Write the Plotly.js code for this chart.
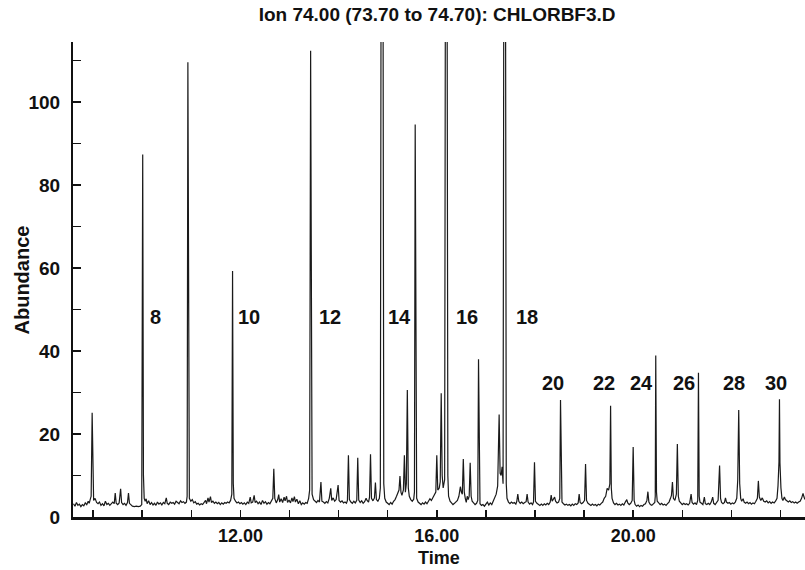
<!DOCTYPE html>
<html>
<head>
<meta charset="utf-8">
<script src="https://cdn.plot.ly/plotly-3.0.1.min.js"></script>
<style>html,body{margin:0;padding:0;background:#fff;}#chart{width:805px;height:570px;}</style>
</head>
<body>
<div id="chart"></div>
<script>
// Retention time (min) of each sampled point of the ion-74 chromatogram
const time = [
  8.60, 8.63, 8.66, 8.69, 8.72, 8.75, 8.78, 8.81, 8.84, 8.87,
  8.90, 8.92, 8.94, 8.96, 8.98, 8.995, 9.01, 9.04, 9.07, 9.10,
  9.13, 9.16, 9.19, 9.22, 9.25, 9.28, 9.31, 9.34, 9.37, 9.40,
  9.43, 9.45, 9.47, 9.50, 9.53, 9.56, 9.58, 9.61, 9.64, 9.67,
  9.70, 9.72, 9.74, 9.77, 9.80, 9.84, 9.88, 9.92, 9.96, 9.99,
  10.00, 10.01, 10.025, 10.04, 10.06, 10.08, 10.10, 10.13, 10.16, 10.19,
  10.22, 10.25, 10.28, 10.31, 10.34, 10.37, 10.40, 10.43, 10.46, 10.49,
  10.51, 10.54, 10.57, 10.60, 10.63, 10.66, 10.69, 10.72, 10.75, 10.78,
  10.81, 10.84, 10.87, 10.90, 10.915, 10.93, 10.945, 10.96, 10.99, 11.02,
  11.05, 11.08, 11.11, 11.14, 11.17, 11.20, 11.23, 11.26, 11.29, 11.31,
  11.34, 11.36, 11.39, 11.41, 11.44, 11.47, 11.50, 11.53, 11.56, 11.59,
  11.62, 11.65, 11.68, 11.71, 11.74, 11.77, 11.80, 11.825, 11.84, 11.855,
  11.87, 11.90, 11.93, 11.96, 11.99, 12.02, 12.05, 12.08, 12.11, 12.14,
  12.17, 12.20, 12.22, 12.25, 12.28, 12.30, 12.33, 12.36, 12.39, 12.42,
  12.45, 12.48, 12.51, 12.54, 12.57, 12.60, 12.63, 12.66, 12.68, 12.70,
  12.73, 12.76, 12.78, 12.80, 12.83, 12.86, 12.89, 12.91, 12.94, 12.96,
  12.99, 13.02, 13.05, 13.07, 13.10, 13.12, 13.15, 13.18, 13.21, 13.24,
  13.27, 13.30, 13.33, 13.36, 13.39, 13.41, 13.43, 13.445, 13.46, 13.49,
  13.52, 13.55, 13.58, 13.61, 13.64, 13.66, 13.69, 13.72, 13.75, 13.78,
  13.81, 13.84, 13.86, 13.89, 13.92, 13.95, 13.99, 14.01, 14.04, 14.07,
  14.10, 14.13, 14.16, 14.18, 14.20, 14.22, 14.25, 14.28, 14.31, 14.34,
  14.37, 14.39, 14.41, 14.44, 14.47, 14.50, 14.53, 14.56, 14.58, 14.61,
  14.63, 14.65, 14.67, 14.70, 14.73, 14.75, 14.77, 14.80, 14.83, 14.85,
  14.865, 14.905, 14.92, 14.94, 14.97, 15.00, 15.03, 15.06, 15.09, 15.12,
  15.15, 15.18, 15.21, 15.23, 15.25, 15.27, 15.29, 15.32, 15.34, 15.36,
  15.38, 15.40, 15.42, 15.44, 15.47, 15.50, 15.53, 15.545, 15.56, 15.575,
  15.59, 15.62, 15.65, 15.68, 15.71, 15.74, 15.77, 15.80, 15.83, 15.86,
  15.89, 15.92, 15.95, 15.98, 16.00, 16.02, 16.05, 16.07, 16.09, 16.11,
  16.13, 16.16, 16.175, 16.21, 16.225, 16.24, 16.27, 16.30, 16.33, 16.36,
  16.39, 16.42, 16.45, 16.48, 16.50, 16.52, 16.54, 16.56, 16.58, 16.60,
  16.62, 16.64, 16.66, 16.68, 16.70, 16.72, 16.75, 16.78, 16.81, 16.835,
  16.85, 16.865, 16.88, 16.91, 16.94, 16.97, 17.00, 17.03, 17.06, 17.09,
  17.12, 17.15, 17.18, 17.21, 17.24, 17.27, 17.29, 17.31, 17.33, 17.35,
  17.365, 17.40, 17.415, 17.43, 17.46, 17.49, 17.52, 17.55, 17.58, 17.61,
  17.63, 17.65, 17.67, 17.70, 17.73, 17.76, 17.79, 17.82, 17.84, 17.86,
  17.89, 17.92, 17.95, 17.97, 17.99, 18.01, 18.04, 18.07, 18.10, 18.13,
  18.16, 18.19, 18.22, 18.25, 18.28, 18.31, 18.33, 18.35, 18.38, 18.40,
  18.42, 18.45, 18.48, 18.505, 18.52, 18.535, 18.55, 18.58, 18.61, 18.64,
  18.67, 18.70, 18.73, 18.76, 18.79, 18.82, 18.85, 18.88, 18.90, 18.92,
  18.95, 18.98, 19.01, 19.03, 19.05, 19.08, 19.11, 19.14, 19.17, 19.20,
  19.23, 19.26, 19.29, 19.32, 19.35, 19.38, 19.41, 19.44, 19.47, 19.50,
  19.525, 19.54, 19.555, 19.57, 19.60, 19.63, 19.66, 19.69, 19.72, 19.75,
  19.78, 19.81, 19.84, 19.87, 19.89, 19.92, 19.95, 19.98, 20.00, 20.02,
  20.04, 20.07, 20.10, 20.13, 20.16, 20.19, 20.22, 20.25, 20.28, 20.30,
  20.32, 20.35, 20.38, 20.41, 20.44, 20.45, 20.46, 20.475, 20.49, 20.52,
  20.55, 20.58, 20.61, 20.64, 20.67, 20.70, 20.73, 20.76, 20.78, 20.80,
  20.82, 20.85, 20.88, 20.90, 20.92, 20.94, 20.97, 21.00, 21.03, 21.06,
  21.09, 21.12, 21.15, 21.18, 21.20, 21.23, 21.26, 21.29, 21.315, 21.33,
  21.345, 21.36, 21.39, 21.42, 21.45, 21.47, 21.50, 21.53, 21.56, 21.59,
  21.62, 21.64, 21.67, 21.70, 21.73, 21.76, 21.78, 21.80, 21.83, 21.86,
  21.88, 21.90, 21.93, 21.96, 21.99, 22.02, 22.05, 22.08, 22.11, 22.13,
  22.15, 22.17, 22.19, 22.21, 22.24, 22.26, 22.29, 22.32, 22.35, 22.38,
  22.41, 22.44, 22.47, 22.50, 22.53, 22.55, 22.57, 22.60, 22.63, 22.66,
  22.69, 22.72, 22.75, 22.78, 22.81, 22.84, 22.87, 22.90, 22.93, 22.95,
  22.97, 22.98, 22.99, 23.01, 23.03, 23.05, 23.08, 23.10, 23.13, 23.16,
  23.19, 23.22, 23.25, 23.28, 23.31, 23.34, 23.37, 23.40, 23.43, 23.46,
  23.48, 23.50
];

// Abundance read at each time above (off-scale peaks run past the top)
const abundance = [
  3.2, 2.6, 3.5, 2.8, 3.1, 2.5, 3.0, 2.7, 3.4, 3.0,
  3.8, 3.3, 4.2, 5.0, 25.1, 6.0, 4.0, 4.5, 3.5, 3.2,
  3.6, 2.8, 3.2, 2.7, 3.8, 3.0, 3.3, 2.8, 3.1, 3.6,
  3.2, 5.8, 3.3, 3.0, 3.4, 6.8, 3.5, 3.0, 3.3, 2.8,
  3.5, 5.8, 3.3, 2.9, 2.6, 2.5, 2.6, 2.5, 2.6, 3.0,
  30.0, 87.4, 10.0, 4.5, 3.8, 4.4, 3.2, 3.9, 3.0, 3.5,
  2.9, 3.3, 2.8, 3.6, 3.1, 3.4, 2.9, 3.5, 3.2, 4.6,
  3.3, 3.0, 3.6, 3.3, 3.5, 3.1, 3.8, 3.4, 3.2, 3.9,
  3.5, 3.7, 3.3, 3.6, 5.0, 109.6, 8.0, 4.5, 3.8, 4.2,
  3.4, 3.7, 3.1, 3.3, 2.9, 3.2, 3.0, 3.4, 4.0, 3.2,
  4.6, 3.6, 4.9, 3.5, 3.8, 3.3, 3.6, 3.2, 3.5, 3.0,
  3.4, 3.1, 3.5, 3.3, 3.6, 3.4, 4.0, 5.5, 59.3, 8.0,
  4.5, 3.8, 3.4, 3.6, 3.2, 3.5, 3.1, 3.4, 3.0, 3.6,
  3.3, 4.8, 3.4, 3.6, 5.2, 3.5, 3.8, 3.2, 3.6, 3.0,
  4.0, 3.3, 3.7, 3.1, 3.5, 3.2, 3.8, 4.5, 11.6, 4.5,
  3.4, 4.2, 5.4, 3.6, 4.4, 3.5, 4.8, 3.9, 5.0, 3.5,
  4.1, 3.4, 4.6, 3.7, 4.9, 3.6, 4.3, 3.2, 3.9, 3.0,
  3.4, 3.1, 3.5, 3.3, 4.5, 6.5, 112.4, 10.0, 5.5, 4.2,
  3.8, 3.5, 4.0, 3.6, 8.4, 3.8, 3.6, 3.3, 3.7, 3.4,
  4.5, 6.9, 4.0, 4.6, 3.8, 4.2, 7.7, 4.0, 3.6, 3.9,
  3.4, 3.6, 3.3, 4.0, 14.9, 4.2, 3.6, 3.3, 3.8, 3.4,
  4.0, 14.3, 4.1, 3.5, 3.9, 3.3, 3.7, 4.5, 4.0, 3.6,
  4.8, 15.1, 4.5, 3.9, 4.6, 8.3, 4.2, 3.8, 4.5, 7.0,
  130, 130, 8.0, 4.5, 3.6, 3.2, 3.0, 3.5, 3.1, 3.8,
  4.2, 5.0, 5.8, 6.5, 9.9, 6.0, 5.2, 6.5, 14.9, 6.0,
  8.0, 30.6, 7.0, 5.0, 4.2, 3.8, 4.3, 6.0, 94.6, 8.0,
  4.5, 3.6, 3.3, 3.0, 3.4, 3.1, 3.6, 3.2, 3.8, 4.4,
  4.0, 4.8, 5.5, 6.0, 14.9, 6.5, 7.0, 8.5, 29.8, 10.0,
  7.0, 9.0, 130, 130, 10.0, 5.0, 3.8, 3.4, 3.0, 3.3,
  3.6, 4.0, 5.0, 7.3, 6.0, 5.5, 14.0, 6.0, 4.5, 3.5,
  5.0, 4.2, 5.0, 13.1, 5.0, 3.8, 3.4, 3.0, 3.3, 4.0,
  38.0, 4.5, 3.2, 2.8, 3.0, 2.6, 3.2, 3.6, 2.9, 3.4,
  3.0, 3.8, 4.5, 5.5, 7.5, 24.7, 10.5, 10.0, 12.1, 8.0,
  130, 130, 8.0, 4.5, 3.6, 3.2, 3.6, 3.3, 3.5, 3.1,
  3.8, 5.5, 3.8, 3.3, 3.6, 3.2, 3.5, 3.7, 5.5, 3.6,
  3.1, 3.4, 3.0, 3.6, 13.2, 3.8, 3.3, 3.0, 2.8, 3.1,
  2.8, 3.2, 2.9, 3.3, 3.0, 3.6, 5.3, 3.8, 4.5, 4.8,
  3.8, 3.4, 3.6, 4.5, 28.2, 4.8, 3.6, 3.2, 2.9, 3.1,
  2.8, 3.0, 2.7, 3.1, 2.8, 3.2, 3.0, 3.4, 5.5, 3.5,
  3.2, 3.5, 4.0, 12.8, 4.0, 3.3, 3.0, 2.8, 3.1, 2.8,
  3.0, 2.7, 3.1, 2.9, 3.3, 3.6, 4.5, 5.0, 6.9, 6.5,
  8.0, 26.8, 7.0, 4.5, 3.4, 3.0, 3.3, 2.9, 3.1, 2.8,
  3.2, 2.9, 3.6, 4.2, 3.4, 3.0, 3.3, 4.0, 16.9, 4.0,
  3.0, 2.6, 2.9, 2.5, 2.8, 2.6, 3.0, 3.2, 4.0, 6.1,
  3.6, 3.0, 2.8, 3.2, 3.5, 5.0, 38.9, 6.0, 3.8, 3.4,
  3.0, 3.3, 2.9, 3.1, 2.8, 3.2, 3.6, 4.5, 5.2, 8.4,
  4.5, 4.0, 5.5, 17.6, 5.0, 3.8, 3.3, 3.0, 3.3, 3.0,
  3.2, 2.9, 3.3, 5.5, 3.5, 3.1, 3.4, 3.0, 4.0, 34.8,
  5.0, 3.6, 3.3, 3.0, 4.8, 3.2, 3.0, 3.3, 3.0, 3.6,
  4.8, 3.3, 3.0, 3.4, 4.0, 12.4, 4.5, 3.5, 3.2, 3.5,
  4.6, 3.6, 3.3, 3.5, 3.1, 3.4, 3.2, 3.6, 4.5, 9.0,
  25.8, 8.0, 4.5, 3.8, 4.4, 3.6, 3.3, 3.6, 3.2, 3.5,
  3.1, 3.4, 3.2, 3.8, 4.5, 8.7, 4.8, 4.0, 4.6, 3.8,
  3.6, 3.9, 3.4, 3.7, 3.3, 3.6, 3.4, 3.8, 4.5, 7.5,
  13.3, 28.4, 13.0, 7.0, 4.5, 4.0, 4.8, 4.2, 3.8, 3.6,
  3.9, 3.5, 3.7, 3.4, 3.6, 3.3, 3.6, 3.8, 4.5, 5.7,
  4.8, 4.2
];

// Peak number labels and where they sit
const peakLabels = ['8', '10', '12', '14', '16', '18', '20', '22', '24', '26', '28', '30'];
const labelTime = [10.27, 12.18, 13.82, 15.24, 16.62, 17.84, 18.36, 19.40, 20.16, 21.03, 22.06, 22.91];
const labelAbundance = [48.1, 48.1, 48.1, 48.1, 48.1, 48.1, 32.2, 32.2, 32.2, 32.2, 32.2, 32.2];

// Axis ticks
const xTickVals = [9, 10, 11, 12, 13, 14, 15, 16, 17, 18, 19, 20, 21, 22, 23];
const xTickText = ['', '', '', '12.00', '', '', '', '16.00', '', '', '', '20.00', '', '', ''];
const yTickVals = [0, 10, 20, 30, 40, 50, 60, 70, 80, 90, 100, 110];
const yTickText = ['0', '', '20', '', '40', '', '60', '', '80', '', '100', ''];

const titleText = 'Ion 74.00 (73.70 to 74.70): CHLORBF3.D';
const xTitleText = 'Time';
const yTitleText = 'Abundance';
const FONT = '"Liberation Sans", Arial, Helvetica, sans-serif';
const INK = '#111111';

const trace = {
  x: time, y: abundance, type: 'scatter', mode: 'lines',
  line: {color: '#1a1a1a', width: 1.2},
  hoverinfo: 'x+y'
};

const annotations = peakLabels.map((t, i) => ({
  x: labelTime[i], y: labelAbundance[i], xref: 'x', yref: 'y',
  text: t, showarrow: false, xanchor: 'center', yanchor: 'middle',
  font: {family: FONT, size: 20, color: INK, weight: 'bold'}
}));

// axis titles placed as annotations so they sit exactly where the reference has them
annotations.push({
  x: -0.0697, y: 0.5, xref: 'paper', yref: 'paper',
  text: yTitleText, textangle: -90, showarrow: false,
  xanchor: 'center', yanchor: 'middle',
  font: {family: FONT, size: 20, color: INK, weight: 'bold'}
});
annotations.push({
  x: 0.5, y: -0.0863, xref: 'paper', yref: 'paper',
  text: xTitleText, showarrow: false, borderpad: 0,
  xanchor: 'center', yanchor: 'middle',
  font: {family: FONT, size: 18, color: INK, weight: 'bold'}
});

const layout = {
  width: 805, height: 570,
  margin: {l: 73, r: 0, t: 42, b: 53, pad: 0},
  paper_bgcolor: '#ffffff', plot_bgcolor: '#ffffff',
  showlegend: false,
  font: {family: FONT, size: 19, color: INK},
  title: {text: titleText, x: 0.543, xanchor: 'center', xref: 'container',
          y: 0.975, yanchor: 'middle', yref: 'container',
          font: {family: FONT, size: 19, color: INK, weight: 'bold'}},
  xaxis: {
    range: [8.59, 23.5], tickmode: 'array', tickvals: xTickVals, ticktext: xTickText,
    ticks: 'inside', ticklen: 7, tickwidth: 1.5, tickcolor: INK,
    showline: true, linewidth: 2.5, linecolor: INK, mirror: false,
    showgrid: false, zeroline: false, ticklabelstandoff: 1,
    tickfont: {family: FONT, size: 18, color: INK, weight: 'bold'},
    automargin: false, fixedrange: true
  },
  yaxis: {
    range: [0, 114.5], tickmode: 'array', tickvals: yTickVals, ticktext: yTickText,
    ticks: 'inside', ticklen: 8, tickwidth: 1.5, tickcolor: INK,
    showline: true, linewidth: 2, linecolor: INK,
    showgrid: false, zeroline: false, ticklabelstandoff: 7,
    tickfont: {family: FONT, size: 19, color: INK, weight: 'bold'},
    automargin: false, fixedrange: true
  },
  annotations: annotations
};

Plotly.newPlot('chart', [trace], layout, {displayModeBar: false, staticPlot: true});
</script>
</body>
</html>
